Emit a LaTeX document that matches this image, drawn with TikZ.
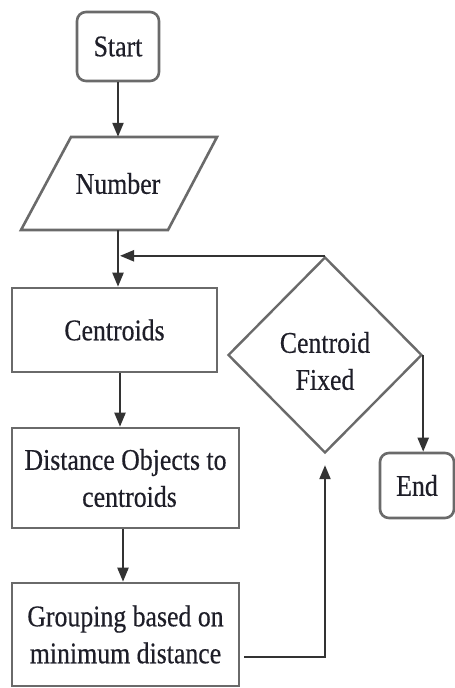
\documentclass[tikz,border=0pt]{standalone}
\usepackage{fontspec}
\setmainfont{Liberation Serif}[FakeStretch=0.86,FakeBold=0.4]
\usetikzlibrary{shapes.geometric,arrows.meta}
\definecolor{boxline}{HTML}{6A6A6A}
\definecolor{arrline}{HTML}{333333}
\definecolor{txt}{HTML}{1E1E28}
\begin{document}
\begin{tikzpicture}[x=1pt,y=-1pt,
  every node/.style={font=\fontsize{30}{37}\selectfont, text=txt, align=center, inner sep=0pt},
  procbox/.style={draw=boxline, line width=2.6pt, rectangle},
  termbox/.style={draw=boxline, line width=2.6pt, rectangle, rounded corners=9pt},
  decbox/.style={draw=boxline, line width=2.4pt, diamond, aspect=1},
  arr/.style={draw=arrline, line width=2.2pt, -{Triangle[length=14pt,width=11pt]}, color=arrline}
]
\useasboundingbox (0,0) rectangle (455,688);
\fill[white] (0,0) rectangle (455,688);

% nodes
\node[termbox, minimum width=82pt, minimum height=69pt] (start) at (118,46.5) {Start};
\draw[draw=boxline, line width=2.6pt, line join=miter] (71,137) -- (217,137) -- (168,230) -- (21,230) -- cycle;
\node[minimum width=100pt, minimum height=93pt] (number) at (118,183.5) {Number};
\node[procbox, minimum width=205pt, minimum height=84pt] (centroids) at (114.5,330) {Centroids};
\node[procbox, minimum width=227pt, minimum height=100pt] (dist) at (125.5,478) {Distance Objects to\\ \hspace*{8pt}centroids};
\node[procbox, minimum width=227pt, minimum height=103pt] (group) at (125.5,634.5) {Grouping based on\\minimum distance};
\node[decbox, minimum width=194pt, minimum height=196pt] (fixed) at (325,355) {};
\node (fixedtext) at (325,361) {Centroid\\Fixed};
\node[termbox, minimum width=74pt, minimum height=65pt] (end) at (417,485.5) {End};

% connectors
\draw[arr] (start.south) -- (number.north);
\draw[arr] (number.south) -- (number.south |- centroids.north);
\draw[arr] (fixed.north) -- ([xshift=2pt]number.south |- fixed.north);
\draw[arr] ([xshift=5.5pt]centroids.south) -- ([xshift=5.5pt]centroids.south |- dist.north);
\draw[arr] ([xshift=-2.5pt]dist.south) -- ([xshift=-2.5pt]dist.south |- group.north);
\coordinate (gout) at ([xshift=4pt,yshift=-22.5pt]group.east);
\draw[arr, shorten >=11pt] (gout) -| (fixed.south);
\draw[arr] (fixed.east) -- (fixed.east |- end.north);
\end{tikzpicture}
\end{document}
